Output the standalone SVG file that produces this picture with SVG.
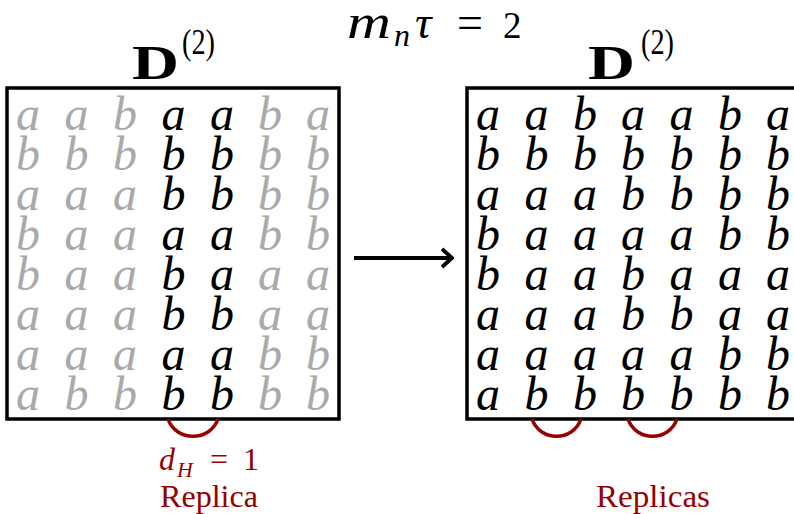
<svg xmlns="http://www.w3.org/2000/svg" width="794" height="514" viewBox="0 0 794 514">
<style>
.box{fill:none;stroke:#000;stroke-width:3.5}
.m{font-family:'Liberation Serif','DejaVu Serif',serif;font-style:italic;font-size:48px;text-anchor:middle;fill:#000}
.g{fill:#aaaaaa}
.t{font-family:'Liberation Serif','DejaVu Serif',serif;fill:#000}
.red{font-family:'Liberation Serif','DejaVu Serif',serif;fill:#960000}
.arc{fill:none;stroke:#960000;stroke-width:3.5}
.arr{fill:none;stroke:#000;stroke-width:3.8}
</style>
<defs>
<marker id="ah" viewBox="0 0 14 22" refX="12" refY="11" markerWidth="14" markerHeight="22" markerUnits="userSpaceOnUse" orient="auto">
<polyline points="2,2 12,11 2,20" fill="none" stroke="#000" stroke-width="3.8"/>
</marker>
</defs>
<rect width="794" height="514" fill="#fff"/>
<g id="title">
<text class="t" x="347" y="38" font-size="48" font-style="italic" textLength="44" lengthAdjust="spacingAndGlyphs">m</text>
<text class="t" x="394" y="46" font-size="32" font-style="italic">n</text>
<text class="t" x="415" y="38" font-size="46" font-style="italic">τ</text>
<text class="t" x="457" y="38" font-size="46">=</text>
<text class="t" x="503" y="38" font-size="37">2</text>
</g>
<g id="left-matrix">
<text class="t" x="132" y="79" font-size="48" font-weight="bold" textLength="47" lengthAdjust="spacingAndGlyphs">D</text>
<text class="t" x="182" y="54" font-size="35" textLength="33" lengthAdjust="spacingAndGlyphs">(2)</text>
<rect class="box" x="7" y="88" width="332" height="331"/>
<text class="m" y="130"><tspan class="g" x="28 76.5 125">aab</tspan><tspan x="173.5 222">aa</tspan><tspan class="g" x="270 318">ba</tspan></text>
<text class="m" y="170"><tspan class="g" x="28 76.5 125">bbb</tspan><tspan x="173.5 222">bb</tspan><tspan class="g" x="270 318">bb</tspan></text>
<text class="m" y="210"><tspan class="g" x="28 76.5 125">aaa</tspan><tspan x="173.5 222">bb</tspan><tspan class="g" x="270 318">bb</tspan></text>
<text class="m" y="250"><tspan class="g" x="28 76.5 125">baa</tspan><tspan x="173.5 222">aa</tspan><tspan class="g" x="270 318">bb</tspan></text>
<text class="m" y="290"><tspan class="g" x="28 76.5 125">baa</tspan><tspan x="173.5 222">ba</tspan><tspan class="g" x="270 318">aa</tspan></text>
<text class="m" y="330"><tspan class="g" x="28 76.5 125">aaa</tspan><tspan x="173.5 222">bb</tspan><tspan class="g" x="270 318">aa</tspan></text>
<text class="m" y="370"><tspan class="g" x="28 76.5 125">aaa</tspan><tspan x="173.5 222">aa</tspan><tspan class="g" x="270 318">bb</tspan></text>
<text class="m" y="410"><tspan class="g" x="28 76.5 125">abb</tspan><tspan x="173.5 222">bb</tspan><tspan class="g" x="270 318">bb</tspan></text>
</g>
<g id="right-matrix">
<text class="t" x="588" y="79" font-size="48" font-weight="bold" textLength="47" lengthAdjust="spacingAndGlyphs">D</text>
<text class="t" x="641" y="54" font-size="35" textLength="33" lengthAdjust="spacingAndGlyphs">(2)</text>
<rect class="box" x="467" y="88" width="360" height="331"/>
<text class="m" x="488 536.5 585 633 681.5 730 778" y="130">aabaaba</text>
<text class="m" x="488 536.5 585 633 681.5 730 778" y="170">bbbbbbb</text>
<text class="m" x="488 536.5 585 633 681.5 730 778" y="210">aaabbbb</text>
<text class="m" x="488 536.5 585 633 681.5 730 778" y="250">baaaabb</text>
<text class="m" x="488 536.5 585 633 681.5 730 778" y="290">baabaaa</text>
<text class="m" x="488 536.5 585 633 681.5 730 778" y="330">aaabbaa</text>
<text class="m" x="488 536.5 585 633 681.5 730 778" y="370">aaaaabb</text>
<text class="m" x="488 536.5 585 633 681.5 730 778" y="410">abbbbbb</text>
</g>
<g id="connectors">
<line class="arr" x1="354" y1="258" x2="452" y2="258" marker-end="url(#ah)"/>
<path class="arc" d="M168,419 C176,442 210,442 218,419"/>
<path class="arc" d="M532,419 C540,442 573,442 581,419"/>
<path class="arc" d="M628,419 C636,442 669,442 677,419"/>
</g>
<g id="label-left">
<text class="red" x="159" y="470" font-size="32" font-style="italic">d</text>
<text class="red" x="177" y="477" font-size="22" font-style="italic">H</text>
<text class="red" x="210" y="470" font-size="32">=</text>
<text class="red" x="243" y="470" font-size="32">1</text>
<text class="red" x="160" y="507" font-size="31" textLength="98" lengthAdjust="spacingAndGlyphs">Replica</text>
</g>
<g id="label-right">
<text class="red" x="596" y="507" font-size="31" textLength="114" lengthAdjust="spacingAndGlyphs">Replicas</text>
</g>
</svg>
